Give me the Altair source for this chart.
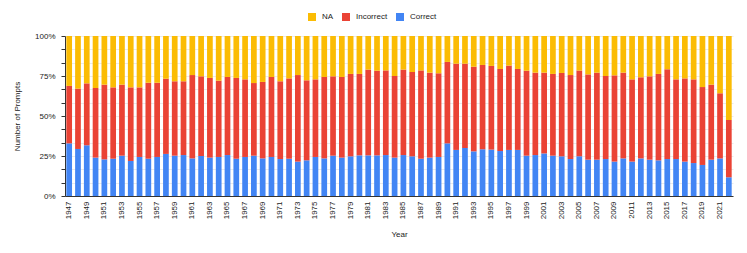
import altair as alt
import pandas as pd

years = list(range(1947, 2023))

correct = [32.9, 29.4, 31.7, 24.0, 22.9, 23.3, 25.2, 21.9, 24.4, 23.3,
           24.4, 26.3, 25.2, 25.6, 23.5, 25.0, 24.0, 24.4, 25.6, 23.3,
           24.4, 25.2, 23.5, 24.4, 23.1, 23.3, 21.5, 22.3, 24.4, 23.5,
           25.2, 24.0, 24.8, 25.4, 25.4, 25.4, 25.6, 24.0, 25.6, 24.8,
           23.3, 24.0, 24.4, 32.9, 28.8, 30.0, 27.9, 29.2, 29.0, 28.1,
           28.8, 28.8, 25.2, 25.6, 26.6, 25.2, 24.8, 23.1, 24.8, 22.7,
           22.7, 23.1, 21.5, 23.5, 21.5, 23.5, 22.7, 22.3, 23.1, 23.1,
           21.5, 20.6, 19.4, 22.7, 23.5, 11.7]

incorrect = [35.9, 37.7, 38.7, 43.5, 46.7, 44.6, 44.4, 46.0, 43.5, 47.5,
             46.4, 47.0, 46.5, 46.1, 52.1, 49.8, 49.8, 47.7, 48.8, 50.5,
             48.5, 45.4, 47.8, 50.0, 48.6, 50.2, 54.1, 50.0, 48.5, 50.9,
             49.6, 50.4, 51.5, 50.9, 53.6, 52.9, 52.9, 51.0, 53.4, 52.7,
             55.2, 53.1, 52.3, 50.9, 53.9, 52.7, 52.9, 52.7, 52.3, 51.3,
             52.7, 50.6, 53.1, 51.5, 50.5, 51.1, 52.1, 52.5, 53.7, 53.3,
             54.4, 51.9, 53.9, 53.6, 51.4, 50.7, 52.1, 54.0, 56.1, 49.8,
             52.0, 52.3, 48.7, 46.9, 40.7, 35.8]

na = [31.2, 32.9, 29.6, 32.5, 30.4, 32.1, 30.4, 32.1, 32.1, 29.2,
      29.2, 26.7, 28.3, 28.3, 24.4, 25.2, 26.2, 27.9, 25.6, 26.2,
      27.1, 29.4, 28.7, 25.6, 28.3, 26.5, 24.4, 27.7, 27.1, 25.6,
      25.2, 25.6, 23.7, 23.7, 21.0, 21.7, 21.5, 25.0, 21.0, 22.5,
      21.5, 22.9, 23.3, 16.2, 17.3, 17.3, 19.2, 18.1, 18.7, 20.6,
      18.5, 20.6, 21.7, 22.9, 22.9, 23.7, 23.1, 24.4, 21.5, 24.0,
      22.9, 25.0, 24.6, 22.9, 27.1, 25.8, 25.2, 23.7, 20.8, 27.1,
      26.5, 27.1, 31.9, 30.4, 35.8, 52.5]

categories = ["NA", "Incorrect", "Correct"]
colors = ["#FBBC04", "#EA4335", "#4285F4"]
stack_order = {"Correct": 0, "Incorrect": 1, "NA": 2}

rows = []
for i, y in enumerate(years):
    for cat, vals in (("Correct", correct), ("Incorrect", incorrect), ("NA", na)):
        rows.append({"Year": y, "Answer": cat, "Share": vals[i], "ord": stack_order[cat]})
df = pd.DataFrame(rows)

FONT = "Liberation Sans"
label_years = years[::2]
yticks = [i / 12 for i in range(13)]

chart = alt.Chart(df).mark_bar().encode(
    x=alt.X("Year:O",
            scale=alt.Scale(paddingInner=0.35, paddingOuter=0.15),
            axis=alt.Axis(title="Year", values=label_years, labelAngle=-90,
                          ticks=False, labelPadding=5, titlePadding=12,
                          domainColor="#333333", grid=False)),
    y=alt.Y("Share:Q", stack="normalize",
            axis=alt.Axis(title="Number of Prompts", format="%", values=yticks,
                          labelExpr="abs(datum.value*4 - round(datum.value*4)) < 0.001 ? format(datum.value, '.0%') : ''",
                          tickSize=4, labelPadding=6, titlePadding=13,
                          domainColor="#333333", tickColor="#333333",
                          gridColor="#ebebeb")),
    color=alt.Color("Answer:N",
                    scale=alt.Scale(domain=categories, range=colors),
                    legend=alt.Legend(title=None, orient="none", direction="horizontal",
                                      legendX=243, legendY=-23,
                                      symbolType="square", symbolSize=64,
                                      symbolStrokeWidth=0, labelOffset=6,
                                      columnPadding=8, labelFontSize=8,
                                      labelFont=FONT, labelColor="#222222")),
    order=alt.Order("ord:Q", sort="ascending"),
).properties(
    width=668, height=160,
).configure_axis(
    labelFont=FONT, titleFont=FONT, labelFontSize=8, titleFontSize=8,
    titleFontWeight="normal", labelColor="#222222", titleColor="#222222",
).configure_view(stroke=None)

chart.save("out.html", embed_options={"renderer": "svg", "actions": False})
